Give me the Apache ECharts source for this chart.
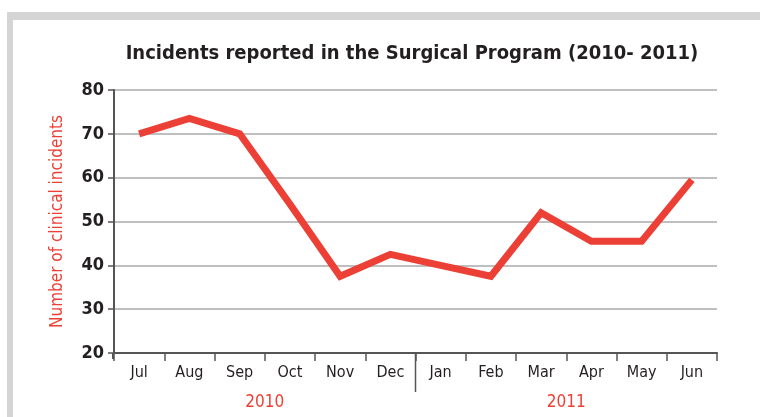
<!DOCTYPE html>
<html style="height: 100%">
<head>
<meta charset="UTF-8">
<script src="https://cdn.jsdelivr.net/npm/echarts@6/dist/echarts.min.js"></script>
</head>
<body style="height: 100%; margin: 0; background: #fff">
<div id="container" style="width: 760px; height: 417px"></div>
<script type="text/javascript">
var months = ['Jul', 'Aug', 'Sep', 'Oct', 'Nov', 'Dec', 'Jan', 'Feb', 'Mar', 'Apr', 'May', 'Jun'];
var years = ['2010', '2011'];
var incidents = [70, 73.5, 70, 54, 37.5, 42.5, 40, 37.5, 52, 45.5, 45.5, 59.5];

var FONT = "'DejaVu Sans Condensed', sans-serif";
var RED = '#ec4036';

var chart = echarts.init(document.getElementById('container'));
var option = {
	animation: false,
	title: {
		text: 'Incidents reported in the Surgical Program (2010- 2011)',
		left: 407, top: 39, textAlign: 'center',
		textStyle: { fontFamily: FONT, fontSize: 20, fontWeight: 'bold', color: '#231f20' }
	},
	grid: { left: 114, right: 43, top: 90, bottom: 64 },
	xAxis: [{
		type: 'category',
		data: months,
		boundaryGap: true,
		axisLine: { lineStyle: { color: '#555', width: 2 } },
		axisTick: { show: true, interval: 0, length: 8, lineStyle: { color: '#555', width: 1.5 } },
		axisLabel: { margin: 12, fontFamily: FONT, fontSize: 16, color: '#231f20' }
	}, {
		type: 'category',
		data: years,
		position: 'bottom',
		offset: 33,
		axisLine: { show: false },
		axisTick: { show: false },
		axisLabel: { margin: 8, fontFamily: FONT, fontSize: 17, color: RED }
	}],
	yAxis: {
		type: 'value',
		min: 20, max: 80, interval: 10,
		name: 'Number of clinical incidents',
		nameLocation: 'middle',
		nameGap: 48,
		nameTextStyle: { fontFamily: FONT, fontSize: 17, color: RED },
		axisLine: { show: true, lineStyle: { color: '#555', width: 2 } },
		axisTick: { show: true, length: 6, lineStyle: { color: '#555', width: 1.5 } },
		axisLabel: { margin: 10, fontFamily: FONT, fontSize: 18, fontWeight: 'bold', color: '#231f20' },
		splitLine: { lineStyle: { color: '#aaa', width: 1.5 } }
	},
	series: [{
		type: 'line',
		data: incidents,
		symbol: 'none',
		lineStyle: { color: RED, width: 7, join: 'miter' }
	}]
};
chart.setOption(option);

// frame and the 2010/2011 divider
var c2010 = chart.convertToPixel({ xAxisIndex: 1 }, '2010');
var c2011 = chart.convertToPixel({ xAxisIndex: 1 }, '2011');
var divX = (c2010 + c2011) / 2;
var baseY = chart.convertToPixel({ yAxisIndex: 0 }, 20);
chart.setOption({
	graphic: [
		{ type: 'rect', shape: { x: 7, y: 12, width: 760, height: 8 }, style: { fill: '#d4d4d4' }, z: 0 },
		{ type: 'rect', shape: { x: 7, y: 12, width: 6, height: 420 }, style: { fill: '#d4d4d4' }, z: 0 },
		{ type: 'line', shape: { x1: divX, y1: baseY, x2: divX, y2: baseY + 39 }, style: { stroke: '#555', lineWidth: 1.5 }, z: 10 },
		{ type: 'line', shape: { x1: 113, y1: baseY, x2: 113, y2: baseY + 6 }, style: { stroke: '#555', lineWidth: 2 }, z: 10 }
	]
});
</script>
</body>
</html>
